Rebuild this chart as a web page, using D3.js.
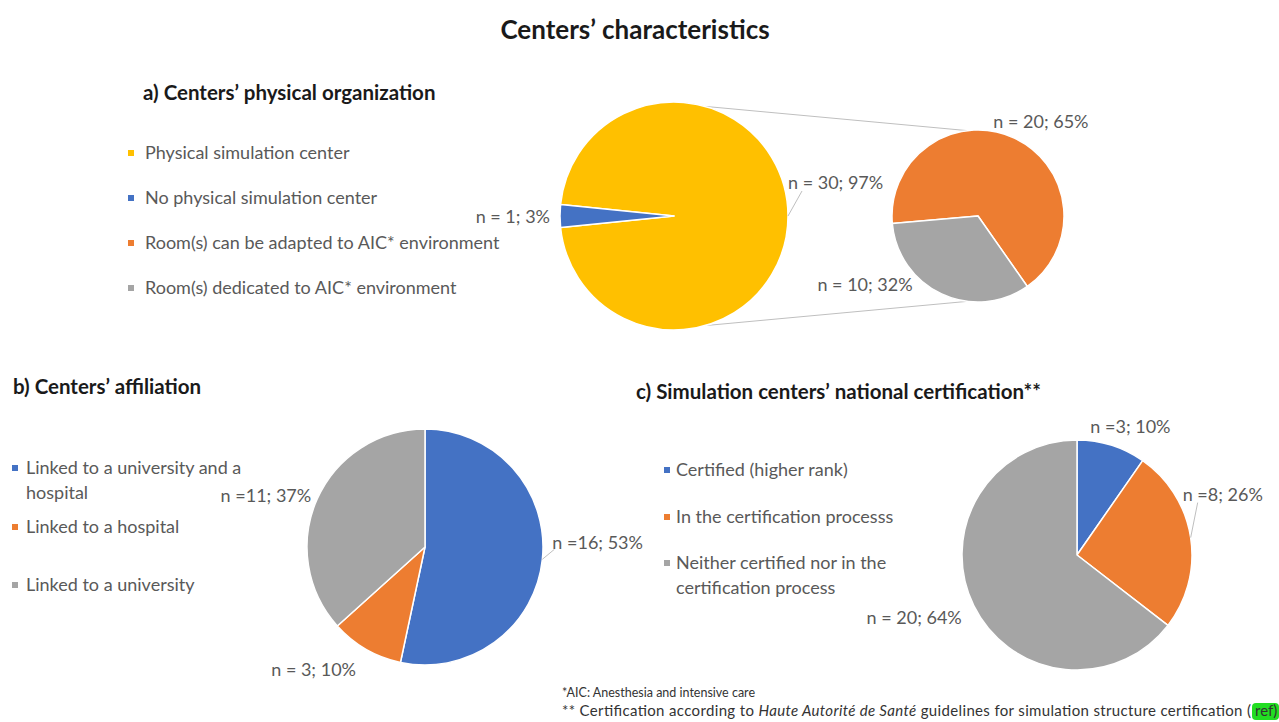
<!DOCTYPE html>
<html>
<head>
<meta charset="utf-8">
<script src="https://cdn.jsdelivr.net/npm/d3@7"></script>
<style>
  body { margin: 0; background: #fff; }
  svg { display: block; }
</style>
</head>
<body>
<div id="chart"></div>
<script>
// Data
const orgCats = ['Physical simulation center', 'No physical simulation center'];
const orgN = [30, 1];
const orgLabels = ['n = 30; 97%', 'n = 1; 3%'];

const roomCats = ['Room(s) can be adapted to AIC* environment', 'Room(s) dedicated to AIC* environment'];
const roomN = [20, 10];
const roomLabels = ['n = 20; 65%', 'n = 10; 32%'];

const affCats = [['Linked to a university and a', 'hospital'], ['Linked to a hospital'], ['Linked to a university']];
const affN = [16, 3, 11];
const affLabels = ['n =16; 53%', 'n = 3; 10%', 'n =11; 37%'];

const certCats = [['Certified (higher rank)'], ['In the certification processs'], ['Neither certified nor in the', 'certification process']];
const certN = [3, 8, 20];
const certLabels = ['n =3; 10%', 'n =8; 26%', 'n = 20; 64%'];

const width = 1279;
const height = 722;
const font = "Lato, 'Open Sans', sans-serif";
const textCol = '#595959';
const C = { blue: '#4472C4', orange: '#ED7D31', gray: '#A5A5A5', gold: '#FFC000' };

const svg = d3.select('#chart')
  .append('svg')
  .attr('width', width)
  .attr('height', height)
  .style('font-family', font);

svg.append('rect').attr('width', width).attr('height', height).attr('fill', '#fff');

// Titles
svg.append('text')
  .attr('x', 635).attr('y', 39)
  .attr('text-anchor', 'middle')
  .attr('font-size', '26px').attr('font-weight', 'bold').attr('fill', '#1a1a1a')
  .text('Centers’ characteristics');

function panelTitle(x, y, t) {
  svg.append('text')
    .attr('x', x).attr('y', y)
    .attr('font-size', '20.5px').attr('font-weight', 'bold').attr('fill', '#1a1a1a')
    .text(t);
}
panelTitle(143, 100, 'a) Centers’ physical organization');
panelTitle(13, 394, 'b) Centers’ affiliation');
panelTitle(636, 399, 'c) Simulation  centers’ national  certification**');

// Legend helper: rows = array of line arrays, ys = baseline of first line per row
function legend(x, tx, ys, rows, colors) {
  rows.forEach((lines, i) => {
    svg.append('rect')
      .attr('x', x).attr('y', ys[i] - 9)
      .attr('width', 6).attr('height', 6)
      .attr('fill', colors[i]);
    lines.forEach((ln, j) => {
      svg.append('text')
        .attr('x', tx).attr('y', ys[i] + j * 25)
        .attr('font-size', '18px').attr('fill', textCol)
        .text(ln);
    });
  });
}

legend(128, 145, [159, 204, 249, 294],
  [[orgCats[0]], [orgCats[1]], [roomCats[0]], [roomCats[1]]],
  [C.gold, C.blue, C.orange, C.gray]);
legend(12, 26, [474, 533, 591], affCats, [C.blue, C.orange, C.gray]);
legend(664, 676, [476, 523, 569], certCats, [C.blue, C.orange, C.gray]);

// Pie helper
// o: cx, cy, r, start (radians), colors, labels, lbl: [{pad, anchor, dx, dy, leader}]
function drawPie(values, o) {
  const pie = d3.pie().sort(null).value(d => d)
    .startAngle(o.start).endAngle(o.start + 2 * Math.PI);
  const arcs = pie(values);
  const arc = d3.arc().innerRadius(0).outerRadius(o.r);
  const g = svg.append('g').attr('transform', `translate(${o.cx},${o.cy})`);

  g.selectAll('path')
    .data(arcs)
    .join('path')
    .attr('d', arc)
    .attr('fill', (d, i) => o.colors[i])
    .attr('stroke', '#fff')
    .attr('stroke-width', 1.5)
    .attr('stroke-linejoin', 'round');

  arcs.forEach((d, i) => {
    const L = o.lbl[i];
    const mid = (d.startAngle + d.endAngle) / 2;
    const edge = d3.pointRadial(mid, o.r);
    const p = d3.pointRadial(mid, o.r + L.pad);
    const tx = p[0] + L.dx;
    const ty = p[1] + L.dy;
    if (L.leader) {
      g.append('line')
        .attr('x1', edge[0]).attr('y1', edge[1])
        .attr('x2', tx + L.leader[0]).attr('y2', ty + L.leader[1])
        .attr('stroke', '#BFBFBF').attr('stroke-width', 1);
    }
    g.append('text')
      .attr('x', tx).attr('y', ty + 6)
      .attr('text-anchor', L.anchor)
      .attr('font-size', '18px').attr('fill', textCol)
      .text(o.labels[i]);
  });
  return arcs;
}

const toRad = deg => deg * Math.PI / 180;

// a) main pie, small slice centred on the left, split into the secondary pie
const orgTotal = d3.sum(orgN);
const mainPie = { cx: 674, cy: 216, r: 114 };
const subPie = { cx: 978, cy: 216, r: 86 };

// connector lines between the two pies
[[16, -7], [164, 187]].forEach(([a1, a2]) => {
  const p1 = d3.pointRadial(toRad(a1), mainPie.r);
  const p2 = d3.pointRadial(toRad(a2), subPie.r);
  svg.append('line')
    .attr('x1', mainPie.cx + p1[0]).attr('y1', mainPie.cy + p1[1])
    .attr('x2', subPie.cx + p2[0]).attr('y2', subPie.cy + p2[1])
    .attr('stroke', '#BFBFBF').attr('stroke-width', 1);
});

drawPie(orgN, {
  ...mainPie,
  start: -Math.PI / 2 + Math.PI * orgN[1] / orgTotal,
  colors: [C.gold, C.blue],
  labels: orgLabels,
  lbl: [
    { pad: 0, anchor: 'start', dx: 0, dy: -33, leader: [14, 8] },
    { pad: 10, anchor: 'end', dx: 0, dy: 1 }
  ]
});

drawPie(roomN, {
  ...subPie,
  start: toRad(265),
  colors: [C.orange, C.gray],
  labels: roomLabels,
  lbl: [
    { pad: 0, anchor: 'start', dx: -21, dy: -16 },
    { pad: 0, anchor: 'end', dx: -29, dy: -9 }
  ]
});

// b) affiliation
drawPie(affN, {
  cx: 425, cy: 547, r: 118,
  start: 0,
  colors: [C.blue, C.orange, C.gray],
  labels: affLabels,
  lbl: [
    { pad: 0, anchor: 'start', dx: 10, dy: -16, leader: [2, 6] },
    { pad: 0, anchor: 'end', dx: -10, dy: 21 },
    { pad: 0, anchor: 'end', dx: -6, dy: -3 }
  ]
});

// c) certification
drawPie(certN, {
  cx: 1077, cy: 555, r: 115,
  start: 0,
  colors: [C.blue, C.orange, C.gray],
  labels: certLabels,
  lbl: [
    { pad: 0, anchor: 'middle', dx: 19, dy: -18 },
    { pad: 0, anchor: 'start', dx: -8, dy: -43, leader: [15, 8] },
    { pad: 0, anchor: 'end', dx: -12, dy: 12 }
  ]
});

// Footnotes
svg.append('text')
  .attr('x', 562).attr('y', 697)
  .attr('font-size', '12.5px').attr('fill', '#333')
  .text('*AIC: Anesthesia and intensive care');

const refX = 1252;
const foot = svg.append('text')
  .attr('x', 562).attr('y', 716)
  .attr('font-size', '15px').attr('fill', '#333')
  .attr('textLength', refX - 1 - 562)
  .attr('lengthAdjust', 'spacing');
foot.append('tspan').text('** Certification according to ');
foot.append('tspan').attr('font-style', 'italic').text('Haute Autorité de Santé');
foot.append('tspan').text(' guidelines for simulation structure certification (');

svg.append('rect')
  .attr('x', refX).attr('y', 703)
  .attr('width', 27).attr('height', 17).attr('rx', 4)
  .attr('fill', '#22dd22');
svg.append('text')
  .attr('x', refX + 3).attr('y', 716)
  .attr('font-size', '15px').attr('fill', '#333')
  .text('ref)');
</script>
</body>
</html>
